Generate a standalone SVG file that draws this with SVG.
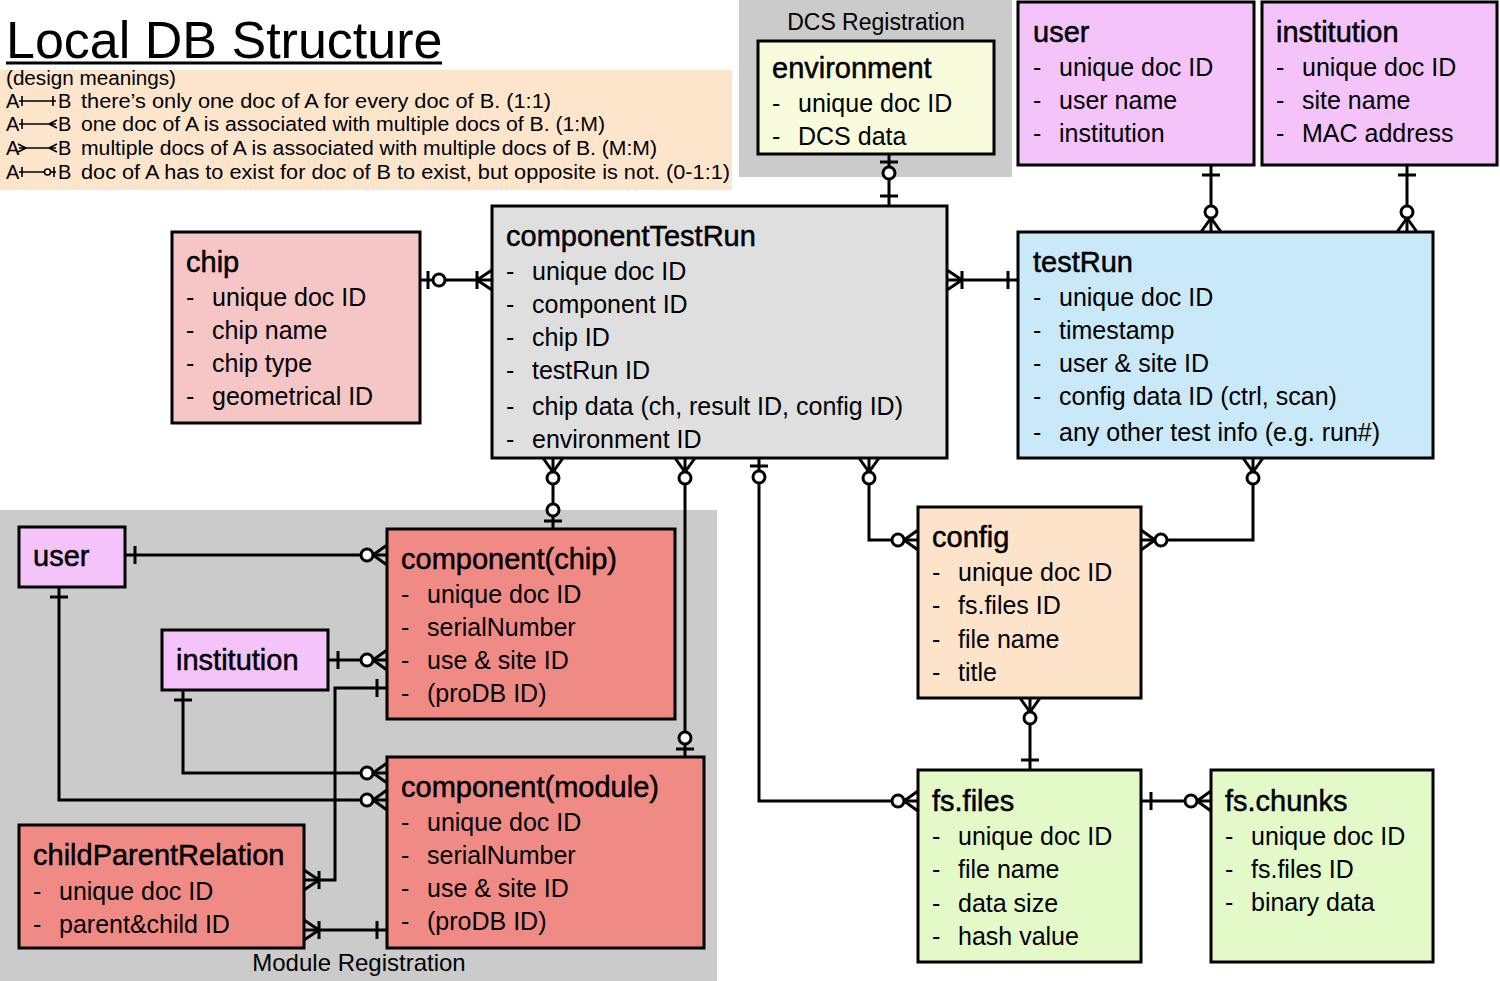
<svg xmlns="http://www.w3.org/2000/svg" width="1500" height="981" viewBox="0 0 1500 981">
<style>
text{font-family:"Liberation Sans",Arial,sans-serif;fill:#000}
.t{font-size:29px;stroke:#000;stroke-width:0.5}
.i{font-size:25px}
.lg{font-size:20px}
.box{stroke:#000;stroke-width:3}
.area{fill:#cbcbcb}
.c{fill:none;stroke:#000;stroke-width:3;marker-start:var(--ms);marker-end:var(--me)}
.sym{fill:none;stroke:#000;stroke-width:1.6}
</style>
<defs>
<marker id="one" markerUnits="userSpaceOnUse" viewBox="-30 -15 32 30" refX="0" refY="0" markerWidth="32" markerHeight="30" orient="auto-start-reverse">
<path d="M-10,-9V9" stroke="#000" stroke-width="3" fill="none"/>
</marker>
<marker id="zo" markerUnits="userSpaceOnUse" viewBox="-30 -15 32 30" refX="0" refY="0" markerWidth="32" markerHeight="30" orient="auto-start-reverse">
<path d="M-8,-9V9" stroke="#000" stroke-width="3" fill="none"/>
<circle cx="-19" cy="0" r="6" fill="#fff" stroke="#000" stroke-width="3"/>
</marker>
<marker id="om" markerUnits="userSpaceOnUse" viewBox="-30 -15 32 30" refX="0" refY="0" markerWidth="32" markerHeight="30" orient="auto-start-reverse">
<path d="M0,-10L-15,0L0,10M-15,-9V9" stroke="#000" stroke-width="3" fill="none"/>
</marker>
<marker id="zm" markerUnits="userSpaceOnUse" viewBox="-30 -15 32 30" refX="0" refY="0" markerWidth="32" markerHeight="30" orient="auto-start-reverse">
<path d="M0,-10L-14,0L0,10" stroke="#000" stroke-width="3" fill="none"/>
<circle cx="-20" cy="0" r="6" fill="#fff" stroke="#000" stroke-width="3"/>
</marker>
</defs>

<rect width="1500" height="981" fill="#fff"/>

<g id="title">
<text x="6" y="58" style="font-size:52px">Local DB Structure</text>
<line x1="6" y1="63" x2="442" y2="63" stroke="#000" stroke-width="3"/>
</g>

<g id="legend">
<rect x="0" y="70" width="732" height="120" fill="#fde5cc"/>
<text class="lg" x="6" y="85" textLength="170" lengthAdjust="spacingAndGlyphs">(design meanings)</text>
<text class="lg" x="6" y="108">A</text><text class="lg" x="58" y="108">B</text>
<text class="lg" x="81" y="108" textLength="470" lengthAdjust="spacingAndGlyphs">there’s only one doc of A for every doc of B. (1:1)</text>
<path class="sym" d="M19,101H56M22,96V106M53,96V106"/>
<text class="lg" x="6" y="131">A</text><text class="lg" x="58" y="131">B</text>
<text class="lg" x="81" y="131" textLength="524" lengthAdjust="spacingAndGlyphs">one doc of A is associated with multiple docs of B. (1:M)</text>
<path class="sym" d="M19,124H56M22,119V129M57,120L49,124L57,128"/>
<text class="lg" x="6" y="155">A</text><text class="lg" x="58" y="155">B</text>
<text class="lg" x="81" y="155" textLength="576" lengthAdjust="spacingAndGlyphs">multiple docs of A is associated with multiple docs of B. (M:M)</text>
<path class="sym" d="M19,148H56M18,144L26,148L18,152M57,144L49,148L57,152"/>
<text class="lg" x="6" y="179">A</text><text class="lg" x="58" y="179">B</text>
<text class="lg" x="81" y="179" textLength="649" lengthAdjust="spacingAndGlyphs">doc of A has to exist for doc of B to exist, but opposite is not. (0-1:1)</text>
<path class="sym" d="M19,172H44M22,167V177M51,172H56M54,167V177"/>
<circle cx="47.5" cy="172" r="3" fill="#fff" stroke="#000" stroke-width="1.6"/>
</g>

<g id="dcs-area">
<rect class="area" x="739" y="0" width="273" height="177"/>
<text x="876" y="30" text-anchor="middle" style="font-size:23px">DCS Registration</text>
</g>

<g id="module-area">
<rect class="area" x="0" y="510" width="717" height="471"/>
<text x="359" y="971" text-anchor="middle" style="font-size:24px">Module Registration</text>
</g>

<g id="connectors">
<path class="c" style="--ms:url(#zo);--me:url(#om)" d="M420,280H492"/>
<path class="c" style="--ms:url(#om);--me:url(#one)" d="M947,280H1018"/>
<path class="c" style="--ms:url(#zo);--me:url(#one)" d="M889,154V206"/>
<path class="c" style="--ms:url(#one);--me:url(#zm)" d="M1211,165V232"/>
<path class="c" style="--ms:url(#one);--me:url(#zm)" d="M1407,165V232"/>
<path class="c" style="--ms:url(#zm);--me:url(#zo)" d="M553,458V529"/>
<path class="c" style="--ms:url(#zm);--me:url(#zo)" d="M685,458V757"/>
<path class="c" style="--ms:url(#zo);--me:url(#zm)" d="M759,458V801H918"/>
<path class="c" style="--ms:url(#zm);--me:url(#zm)" d="M869,458V540H918"/>
<path class="c" style="--ms:url(#zm);--me:url(#zm)" d="M1253,458V540H1141"/>
<path class="c" style="--ms:url(#zm);--me:url(#one)" d="M1030,698V770"/>
<path class="c" style="--ms:url(#one);--me:url(#zm)" d="M1141,801H1211"/>
<path class="c" style="--ms:url(#one);--me:url(#zm)" d="M125,555H387"/>
<path class="c" style="--ms:url(#one);--me:url(#zm)" d="M59,587V800H387"/>
<path class="c" style="--ms:url(#one);--me:url(#zm)" d="M328,660H387"/>
<path class="c" style="--ms:url(#one);--me:url(#zm)" d="M183,690V773H387"/>
<path class="c" style="--ms:url(#one);--me:url(#om)" d="M387,688H335V880H304"/>
<path class="c" style="--ms:url(#one);--me:url(#om)" d="M387,930H304"/>
</g>

<g id="environment">
<rect class="box" x="758" y="41" width="236" height="113" fill="#f9fcdc"/>
<text class="t" x="772" y="78">environment</text>
<text class="i" x="772" y="112">-</text><text class="i" x="798" y="112">unique doc ID</text>
<text class="i" x="772" y="145">-</text><text class="i" x="798" y="145">DCS data</text>
</g>

<g id="user">
<rect class="box" x="1018" y="2" width="236" height="163" fill="#f3c3fa"/>
<text class="t" x="1033" y="42">user</text>
<text class="i" x="1033" y="76">-</text><text class="i" x="1059" y="76">unique doc ID</text>
<text class="i" x="1033" y="109">-</text><text class="i" x="1059" y="109">user name</text>
<text class="i" x="1033" y="142">-</text><text class="i" x="1059" y="142">institution</text>
</g>

<g id="institution">
<rect class="box" x="1262" y="2" width="235" height="163" fill="#f3c3fa"/>
<text class="t" x="1276" y="42">institution</text>
<text class="i" x="1276" y="76">-</text><text class="i" x="1302" y="76">unique doc ID</text>
<text class="i" x="1276" y="109">-</text><text class="i" x="1302" y="109">site name</text>
<text class="i" x="1276" y="142">-</text><text class="i" x="1302" y="142">MAC address</text>
</g>

<g id="chip">
<rect class="box" x="172" y="232" width="248" height="191" fill="#f6c5c5"/>
<text class="t" x="186" y="272">chip</text>
<text class="i" x="186" y="306">-</text><text class="i" x="212" y="306">unique doc ID</text>
<text class="i" x="186" y="339">-</text><text class="i" x="212" y="339">chip name</text>
<text class="i" x="186" y="372">-</text><text class="i" x="212" y="372">chip type</text>
<text class="i" x="186" y="405">-</text><text class="i" x="212" y="405">geometrical ID</text>
</g>

<g id="componentTestRun">
<rect class="box" x="492" y="206" width="455" height="252" fill="#dfdfdf"/>
<text class="t" x="506" y="246">componentTestRun</text>
<text class="i" x="506" y="280">-</text><text class="i" x="532" y="280">unique doc ID</text>
<text class="i" x="506" y="313">-</text><text class="i" x="532" y="313">component ID</text>
<text class="i" x="506" y="346">-</text><text class="i" x="532" y="346">chip ID</text>
<text class="i" x="506" y="379">-</text><text class="i" x="532" y="379">testRun ID</text>
<text class="i" x="506" y="415">-</text><text class="i" x="532" y="415">chip data (ch, result ID, config ID)</text>
<text class="i" x="506" y="448">-</text><text class="i" x="532" y="448">environment ID</text>
</g>

<g id="testRun">
<rect class="box" x="1018" y="232" width="415" height="226" fill="#c9e8f8"/>
<text class="t" x="1033" y="272">testRun</text>
<text class="i" x="1033" y="306">-</text><text class="i" x="1059" y="306">unique doc ID</text>
<text class="i" x="1033" y="339">-</text><text class="i" x="1059" y="339">timestamp</text>
<text class="i" x="1033" y="372">-</text><text class="i" x="1059" y="372">user &amp; site ID</text>
<text class="i" x="1033" y="405">-</text><text class="i" x="1059" y="405">config data ID (ctrl, scan)</text>
<text class="i" x="1033" y="441">-</text><text class="i" x="1059" y="441">any other test info (e.g. run#)</text>
</g>

<g id="config">
<rect class="box" x="918" y="507" width="223" height="191" fill="#fce3ca"/>
<text class="t" x="932" y="547">config</text>
<text class="i" x="932" y="581">-</text><text class="i" x="958" y="581">unique doc ID</text>
<text class="i" x="932" y="614">-</text><text class="i" x="958" y="614">fs.files ID</text>
<text class="i" x="932" y="648">-</text><text class="i" x="958" y="648">file name</text>
<text class="i" x="932" y="681">-</text><text class="i" x="958" y="681">title</text>
</g>

<g id="fs-files">
<rect class="box" x="918" y="770" width="223" height="192" fill="#e3f9c8"/>
<text class="t" x="932" y="811">fs.files</text>
<text class="i" x="932" y="845">-</text><text class="i" x="958" y="845">unique doc ID</text>
<text class="i" x="932" y="878">-</text><text class="i" x="958" y="878">file name</text>
<text class="i" x="932" y="912">-</text><text class="i" x="958" y="912">data size</text>
<text class="i" x="932" y="945">-</text><text class="i" x="958" y="945">hash value</text>
</g>

<g id="fs-chunks">
<rect class="box" x="1211" y="770" width="222" height="192" fill="#e3f9c8"/>
<text class="t" x="1225" y="811">fs.chunks</text>
<text class="i" x="1225" y="845">-</text><text class="i" x="1251" y="845">unique doc ID</text>
<text class="i" x="1225" y="878">-</text><text class="i" x="1251" y="878">fs.files ID</text>
<text class="i" x="1225" y="911">-</text><text class="i" x="1251" y="911">binary data</text>
</g>

<g id="user-module">
<rect class="box" x="19" y="527" width="106" height="60" fill="#f3c3fa"/>
<text class="t" x="33" y="566">user</text>
</g>

<g id="institution-module">
<rect class="box" x="162" y="630" width="166" height="60" fill="#f3c3fa"/>
<text class="t" x="176" y="670">institution</text>
</g>

<g id="component-chip">
<rect class="box" x="387" y="529" width="288" height="190" fill="#f08a85"/>
<text class="t" x="401" y="569">component(chip)</text>
<text class="i" x="401" y="603">-</text><text class="i" x="427" y="603">unique doc ID</text>
<text class="i" x="401" y="636">-</text><text class="i" x="427" y="636">serialNumber</text>
<text class="i" x="401" y="669">-</text><text class="i" x="427" y="669">use &amp; site ID</text>
<text class="i" x="401" y="702">-</text><text class="i" x="427" y="702">(proDB ID)</text>
</g>

<g id="component-module">
<rect class="box" x="387" y="757" width="317" height="191" fill="#f08a85"/>
<text class="t" x="401" y="797">component(module)</text>
<text class="i" x="401" y="831">-</text><text class="i" x="427" y="831">unique doc ID</text>
<text class="i" x="401" y="864">-</text><text class="i" x="427" y="864">serialNumber</text>
<text class="i" x="401" y="897">-</text><text class="i" x="427" y="897">use &amp; site ID</text>
<text class="i" x="401" y="930">-</text><text class="i" x="427" y="930">(proDB ID)</text>
</g>

<g id="childParentRelation">
<rect class="box" x="19" y="825" width="285" height="123" fill="#f08a85"/>
<text class="t" x="33" y="865">childParentRelation</text>
<text class="i" x="33" y="900">-</text><text class="i" x="59" y="900">unique doc ID</text>
<text class="i" x="33" y="933">-</text><text class="i" x="59" y="933">parent&amp;child ID</text>
</g>
</svg>
